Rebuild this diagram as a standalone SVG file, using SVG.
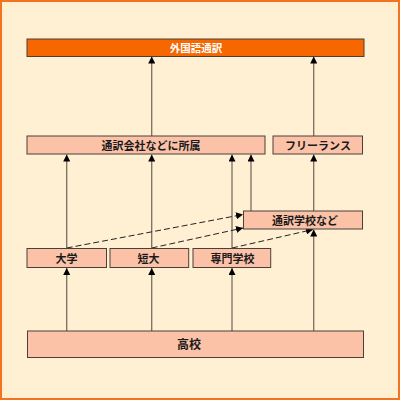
<svg xmlns="http://www.w3.org/2000/svg" width="400" height="400" viewBox="0 0 400 400">
<defs>
<marker id="ah" viewBox="0 0 10 10" refX="10" refY="5" markerWidth="7" markerHeight="7" markerUnits="userSpaceOnUse" orient="auto">
<path d="M0,0 L10,5 L0,10 Z" fill="#000"/>
</marker>
<style>
.n{fill:#FCC2A8;stroke:#4a4038;stroke-width:1}
.t{font-family:"Noto Sans CJK JP","Noto Sans",sans-serif;font-weight:bold;font-size:11px;fill:#1a1a1a;text-anchor:middle}
.c{stroke:#7a6e60;stroke-width:1.3;fill:none;marker-end:url(#ah)}
.d{stroke:#222;stroke-width:1;stroke-dasharray:6,3;fill:none;marker-end:url(#ah)}
</style>
</defs>
<rect x="1" y="1" width="398" height="398" fill="#FFEFD3" stroke="#F5731E" stroke-width="2"/>
<g id="connectors">
<line class="c" x1="151.7" y1="136" x2="151.7" y2="56.5" stroke="#3a3028"/>
<line class="c" x1="313.7" y1="136" x2="313.7" y2="56.5"/>
<line class="c" x1="66.7" y1="248" x2="66.7" y2="154.5"/>
<line class="c" x1="151.7" y1="248" x2="151.7" y2="154.5"/>
<line class="c" x1="232" y1="248" x2="232" y2="154.5"/>
<line class="c" x1="251" y1="211" x2="251" y2="154.5"/>
<line class="c" x1="313.7" y1="211" x2="313.7" y2="154.5"/>
<line class="c" x1="66.7" y1="331" x2="66.7" y2="268"/>
<line class="c" x1="151.7" y1="331" x2="151.7" y2="268"/>
<line class="c" x1="232" y1="331" x2="232" y2="268"/>
<line class="c" x1="313.7" y1="331" x2="313.7" y2="229.5"/>
<line class="d" x1="66.7" y1="248" x2="243" y2="214.5"/>
<line class="d" x1="151.7" y1="248" x2="243" y2="228"/>
<line class="d" x1="232" y1="248" x2="313" y2="229.5"/>
</g>
<g id="n-gaikokugo">
<rect x="27" y="39" width="337" height="17.5" fill="#F76700" stroke="#4a4038" stroke-width="1"/>
<text class="t" x="196" y="51.5" style="fill:#fff;font-size:10.5px">外国語通訳</text>
</g>
<g id="n-kaisha">
<rect class="n" x="27" y="136" width="238" height="18"/>
<text class="t" x="151" y="149.5">通訳会社などに所属</text>
</g>
<g id="n-freelance">
<rect class="n" x="273" y="136" width="89.5" height="18"/>
<text class="t" x="318" y="149.5">フリーランス</text>
</g>
<g id="n-tsuyakugakko">
<rect class="n" x="243.5" y="211" width="119" height="18"/>
<text class="t" x="305" y="224.5">通訳学校など</text>
</g>
<g id="n-daigaku">
<rect class="n" x="27" y="248.5" width="79.5" height="19"/>
<text class="t" x="66.5" y="262.5">大学</text>
</g>
<g id="n-tandai">
<rect class="n" x="110" y="248.5" width="78.7" height="19"/>
<text class="t" x="148.5" y="262.5">短大</text>
</g>
<g id="n-senmon">
<rect class="n" x="193" y="248.5" width="77.7" height="19"/>
<text class="t" x="232.5" y="262.5">専門学校</text>
</g>
<g id="n-koko">
<rect class="n" x="27.5" y="331" width="336" height="26.5"/>
<text class="t" x="189" y="349" style="font-size:12px">高校</text>
</g>
</svg>
